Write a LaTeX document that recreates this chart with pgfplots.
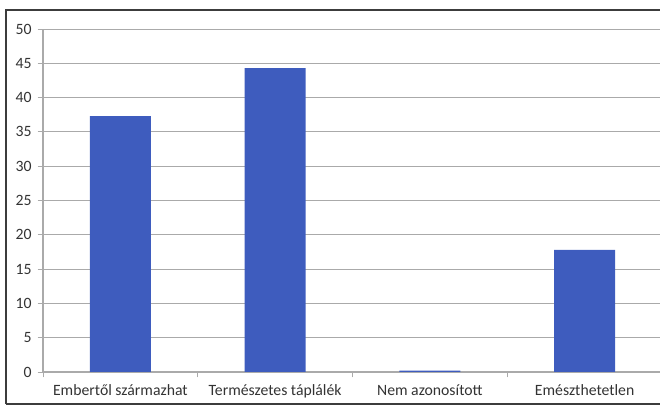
\documentclass[border=0pt]{standalone}
\usepackage{fontspec}
\setmainfont{Carlito}
\usepackage{pgfplots}
\pgfplotsset{compat=1.18}
\definecolor{barblue}{RGB}{62,92,190}
\definecolor{gridgray}{RGB}{170,170,170}
\definecolor{framegray}{RGB}{60,60,60}
\begin{document}
\begin{tikzpicture}[x=0.75pt,y=0.75pt]
\begin{axis}[
  at={(0,0)}, anchor=south west,
  scale only axis,
  width=464.25pt, height=257.25pt,
  xmin=-0.5, xmax=3.5, ymin=0, ymax=50,
  ytick={0,5,...,50},
  xtick={0,1,2,3},
  xticklabels={Embertől származhat, Természetes táplálék, Nem azonosított, Emészthetetlen},
  minor xtick={-0.5,0.5,1.5,2.5,3.5},
  major x tick style={draw=none},
  minor tick length=4pt,
  major tick length=4pt,
  tick align=outside,
  tick style={gridgray, line width=0.6pt},
  axis x line*=bottom, axis y line*=left,
  axis line style={gridgray, line width=0.8pt, -},
  ymajorgrids, grid style={gridgray, line width=0.6pt},
  tick label style={font=\fontsize{11.8}{13}\selectfont, text=black!80},
  /pgf/number format/assume math mode=true,
  xticklabel style={yshift=-2pt},
  yticklabel style={xshift=-1pt},
  ybar, bar width=45.75pt,
  clip=false,
]
\addplot[fill=barblue, draw=none] coordinates {(0,37.3) (1,44.3) (2,0.2) (3,17.8)};
\end{axis}
% outer chart frame
\draw[framegray, line width=1.4pt] (-37,-32) -- (-37,362) -- (625,362);
\draw[framegray, line width=0.8pt] (-37,-32) -- (625,-32);
\pgfresetboundingbox
\useasboundingbox (-43,-38) rectangle (617,372);
\end{tikzpicture}
\end{document}
